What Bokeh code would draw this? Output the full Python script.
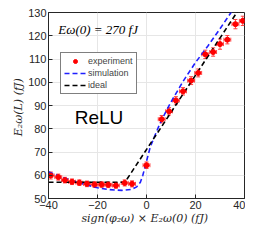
from bokeh.plotting import figure
from bokeh.models import Whisker, ColumnDataSource, Legend, LegendItem, Range1d
from bokeh.core.properties import value
from bokeh.embed import file_html
from bokeh.resources import INLINE

# experiment data
exp_x = [-39.1, -36.0, -33.3, -30.4, -27.4, -24.3, -21.2, -18.3, -15.6, -12.5, -8.9, -5.9,
         0.0, 6.2, 9.2, 12.0, 14.9, 18.2, 21.1, 24.0, 27.2, 30.0, 33.0, 36.3, 39.3]
exp_y = [59.9, 59.2, 57.9, 57.2, 56.8, 56.3, 56.0, 56.0, 55.9, 55.6, 56.7, 56.3,
         64.3, 84.1, 87.5, 92.2, 96.1, 100.7, 104.0, 112.0, 113.0, 116.4, 118.3, 125.0, 126.4]
exp_xerr = [1.4] * 25
exp_yerr = [1.5, 1.3, 1.2, 1.2, 1.2, 1.2, 1.2, 1.2, 1.2, 1.2, 1.3, 1.3,
            1.4, 1.6, 1.6, 1.6, 1.6, 1.7, 1.7, 1.8, 1.8, 2.2, 1.8, 2.0, 2.0]

# simulation curve
sim_x = [-40, -35, -30, -25, -20, -15, -10, -6, -4, -2.5, -1.5, -0.5, 0.5, 1.5, 3, 5,
         7.5, 10, 12.5, 15, 20, 25, 30, 34.5, 36]
sim_y = [61.5, 59.3, 57.6, 56.0, 54.6, 53.8, 53.5, 53.9, 55.0, 57.0, 60.0, 64.0, 68.0,
         72.0, 76.0, 81.0, 86.5, 91.5, 96.0, 100.5, 108.5, 115.5, 123.0, 130.0, 132.5]

# ideal curve
ideal_x = [-40, -8.8, 40]
ideal_y = [57.0, 57.0, 135.0]

x_ticks = [-40, -20, 0, 20, 40]
y_ticks = [50, 60, 70, 80, 90, 100, 110, 120, 130]
text_exp = ["Eω(0) = 270 fJ"]
text_act = ["ReLU"]

p = figure(width=245, height=227, output_backend="svg", toolbar_location=None,
           x_range=Range1d(-40, 40), y_range=Range1d(50, 130),
           min_border_left=48, min_border_right=1, min_border_top=12, min_border_bottom=26)

p.xaxis.ticker = x_ticks
p.yaxis.ticker = y_ticks
for ax in (p.xaxis[0], p.yaxis[0]):
    ax.major_label_text_font = "Liberation Sans"
    ax.major_label_text_font_size = "11px"
    ax.major_label_text_color = "#262626"
    ax.axis_label_text_font = "DejaVu Serif"
    ax.axis_label_text_font_style = "italic"
    ax.axis_label_text_font_size = "11px"
    ax.axis_label_text_color = "#262626"
    ax.major_tick_in = 4
    ax.major_tick_out = 0
    ax.minor_tick_in = 0
    ax.minor_tick_out = 0
    ax.axis_line_color = "#262626"
    ax.major_tick_line_color = "#262626"
    ax.major_label_standoff = 2
    ax.axis_label_standoff = 0
p.xaxis.axis_label = "sign(φ₂ω) × E₂ω(0)  (fJ)"
p.yaxis.axis_label = "E₂ω(L)  (fJ)"

p.grid.grid_line_color = "#e6e6e6"
p.outline_line_color = "#262626"
p.outline_line_alpha = 1.0
p.background_fill_color = "white"

src = ColumnDataSource(dict(
    x=exp_x, y=exp_y,
    xl=[a - e for a, e in zip(exp_x, exp_xerr)], xu=[a + e for a, e in zip(exp_x, exp_xerr)],
    yl=[a - e for a, e in zip(exp_y, exp_yerr)], yu=[a + e for a, e in zip(exp_y, exp_yerr)],
))

r_sim = p.line(sim_x, sim_y, line_color="#1f1fff", line_width=1.6, line_dash="5 3")
r_ideal = p.line(ideal_x, ideal_y, line_color="black", line_width=1.6, line_dash="5 3")

wy = Whisker(source=src, base="x", lower="yl", upper="yu", dimension="height",
             line_color="#ff4040", line_width=1)
wy.upper_head.size = 4
wy.lower_head.size = 4
wy.upper_head.line_color = "#ff4040"
wy.lower_head.line_color = "#ff4040"
wx = Whisker(source=src, base="y", lower="xl", upper="xu", dimension="width",
             line_color="#ff4040", line_width=1)
wx.upper_head.size = 4
wx.lower_head.size = 4
wx.upper_head.line_color = "#ff4040"
wx.lower_head.line_color = "#ff4040"
p.add_layout(wy)
p.add_layout(wx)
r_exp = p.scatter("x", "y", source=src, size=5, color="red")

p.text(x=[-36], y=[122.8], text=text_exp, text_font=value("Liberation Serif"),
       text_font_style="italic", text_font_size="13px", text_baseline="middle", text_color="black")
p.text(x=[-29.3], y=[85.0], text=text_act, text_font=value("Liberation Sans"),
       text_font_size="19px", text_baseline="middle", text_color="black")

legend = Legend(items=[
    LegendItem(label="experiment", renderers=[r_exp]),
    LegendItem(label="simulation", renderers=[r_sim]),
    LegendItem(label="ideal", renderers=[r_ideal]),
], location=(12, 104))
legend.label_text_font = "Liberation Sans"
legend.label_text_font_size = "9px"
legend.label_height = 10
legend.glyph_height = 10
legend.glyph_width = 22
legend.label_standoff = 2
legend.spacing = 2
legend.padding = 3
legend.margin = 0
legend.border_line_color = "black"
legend.border_line_width = 1
legend.background_fill_alpha = 1.0
p.add_layout(legend, "center")

open("out.html", "w").write(file_html(p, INLINE))
